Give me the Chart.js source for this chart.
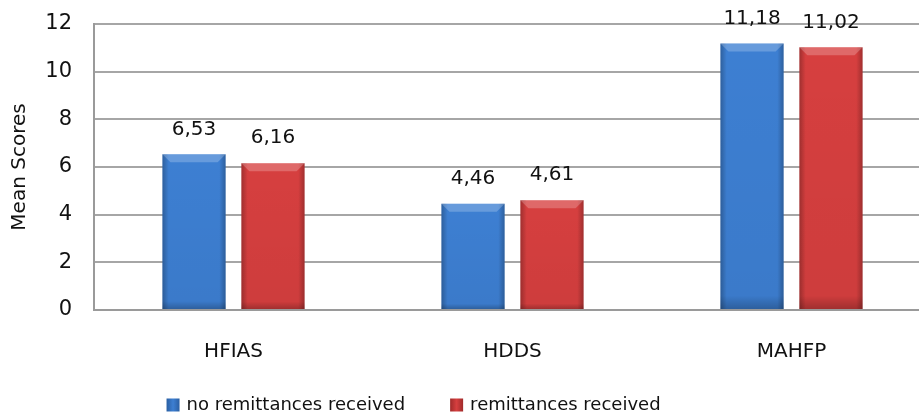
<!DOCTYPE html>
<html>
<head>
<script src="https://cdn.jsdelivr.net/npm/chart.js@4"></script>
<style>
  html, body { margin: 0; padding: 0; background: #fff; }
  #wrap { width: 919px; height: 418px; }
</style>
</head>
<body>
<div id="wrap"><canvas id="c" width="919" height="418"></canvas></div>
<script>
const categories = ['HFIAS', 'HDDS', 'MAHFP'];
const noRemit = [6.53, 4.46, 11.18];
const remit = [6.16, 4.61, 11.02];
const seriesNames = ['no remittances received', 'remittances received'];
const yTicks = [0, 2, 4, 6, 8, 10, 12];

const FONT = '"DejaVu Sans", sans-serif';
const fmt = v => v.toFixed(2).replace('.', ',');

// the original plot runs a little past the right edge of the picture
const widenPlot = {
  id: 'widenPlot',
  afterLayout(chart) {
    const extra = 12;
    const x = chart.scales.x;
    x.right += extra;
    x.width = x.right - x.left;
    x.configure();
    chart.chartArea.right += extra;
    chart.chartArea.width += extra;
  }
};

// bevel look: darker edges and a light top face on each bar
const bevel = {
  id: 'bevel',
  afterDatasetsDraw(chart) {
    const ctx = chart.ctx;
    chart.data.datasets.forEach((ds, i) => {
      chart.getDatasetMeta(i).data.forEach(bar => {
        const w = bar.width, l = bar.x - w / 2, r = bar.x + w / 2;
        const top = bar.y, bot = bar.base;
        ctx.save();
        const g = ctx.createLinearGradient(l, 0, r, 0);
        g.addColorStop(0, 'rgba(0,0,0,0.25)');
        g.addColorStop(0.1, 'rgba(0,0,0,0)');
        g.addColorStop(0.9, 'rgba(0,0,0,0)');
        g.addColorStop(1, 'rgba(0,0,0,0.25)');
        ctx.fillStyle = g;
        ctx.fillRect(l, top, w, bot - top);
        const b = 8;
        ctx.beginPath();
        ctx.moveTo(l, top); ctx.lineTo(r, top); ctx.lineTo(r - b, top + b); ctx.lineTo(l + b, top + b); ctx.closePath();
        ctx.fillStyle = 'rgba(255,255,255,0.22)';
        ctx.fill();
        const v = ctx.createLinearGradient(0, top, 0, bot);
        v.addColorStop(0, 'rgba(0,0,0,0)');
        v.addColorStop(0.95, 'rgba(0,0,0,0.04)');
        v.addColorStop(1, 'rgba(0,0,0,0.25)');
        ctx.fillStyle = v;
        ctx.fillRect(l, top, w, bot - top);
        ctx.restore();
      });
    });
  }
};

const valueLabels = {
  id: 'valueLabels',
  afterDatasetsDraw(chart) {
    const ctx = chart.ctx;
    ctx.save();
    ctx.font = '20px ' + FONT;
    ctx.fillStyle = '#111';
    ctx.textAlign = 'center';
    ctx.textBaseline = 'bottom';
    chart.data.datasets.forEach((ds, i) => {
      chart.getDatasetMeta(i).data.forEach((bar, j) => {
        ctx.fillText(fmt(ds.data[j]), bar.x, bar.y - 15);
      });
    });
    ctx.restore();
  }
};

// legend drawn by hand so the gap between the two items can be wide
const legendRow = {
  id: 'legendRow',
  afterDraw(chart) {
    const ctx = chart.ctx;
    ctx.save();
    ctx.font = '18px ' + FONT;
    ctx.textBaseline = 'middle';
    const box = 13, gapText = 7, gapItem = 45, y = 405;
    const items = chart.data.datasets.map(ds => ({ ds, w: ctx.measureText(ds.label).width }));
    const total = items.reduce((s, it) => s + box + gapText + it.w, 0) + gapItem * (items.length - 1);
    let x = chart.width * 0.45 - total / 2;
    items.forEach(it => {
      const g = ctx.createLinearGradient(x, 0, x + box, 0);
      g.addColorStop(0, it.ds.borderColor);
      g.addColorStop(0.5, it.ds.backgroundColor);
      g.addColorStop(1, it.ds.borderColor);
      ctx.fillStyle = g;
      ctx.fillRect(x, y - box / 2, box, box);
      ctx.fillStyle = '#111';
      ctx.fillText(it.ds.label, x + box + gapText, y);
      x += box + gapText + it.w + gapItem;
    });
    ctx.restore();
  }
};

new Chart(document.getElementById('c'), {
  type: 'bar',
  data: {
    labels: categories,
    datasets: [
      { label: seriesNames[0], data: noRemit, backgroundColor: '#3d7fd2', borderColor: '#2a5fa3', borderWidth: 0 },
      { label: seriesNames[1], data: remit, backgroundColor: '#d63f3f', borderColor: '#a02a2a', borderWidth: 0 }
    ]
  },
  options: {
    responsive: false,
    animation: false,
    devicePixelRatio: 1,
    layout: { padding: { top: 24, right: 0, left: 4, bottom: 24 } },
    datasets: { bar: { categoryPercentage: 0.566, barPercentage: 0.8 } },
    plugins: {
      legend: { display: false },
      tooltip: { enabled: false }
    },
    scales: {
      x: {
        afterFit(axis) { axis.paddingRight = 0; axis.paddingLeft = 0; },
        grid: { display: false, drawTicks: false },
        border: { color: '#9a9a9a', width: 2 },
        ticks: { font: { family: FONT, size: 20 }, color: '#111', padding: 30 }
      },
      y: {
        min: 0, max: 12,
        afterBuildTicks(axis) { axis.ticks = yTicks.map(v => ({ value: v })); },
        afterFit(axis) { axis.width = 90; axis.paddingTop = 0; },
        grid: { color: '#a6a6a6', lineWidth: 2, drawTicks: false },
        border: { color: '#9a9a9a', width: 2 },
        ticks: { font: { family: FONT, size: 21, lineHeight: 0.5 }, color: '#111', padding: 22 },
        title: { display: true, text: 'Mean Scores', font: { family: FONT, size: 20 }, color: '#111', padding: { bottom: 0 } }
      }
    }
  },
  plugins: [widenPlot, bevel, valueLabels, legendRow]
});
</script>
</body>
</html>
